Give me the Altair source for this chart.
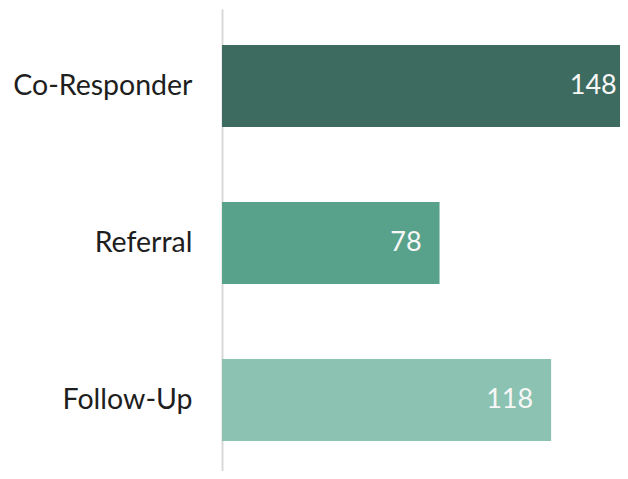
import altair as alt
import pandas as pd

categories = ["Co-Responder", "Referral", "Follow-Up"]
values = [148, 78, 118]
colors = ["#3e6b5f", "#58a18a", "#8cc2b1"]

df = pd.DataFrame({"cat": categories, "val": values, "col": colors})

y_enc = alt.Y("cat:N", sort=categories, title=None,
              scale=alt.Scale(paddingInner=0.478, paddingOuter=0.21, align=0.545),
              axis=alt.Axis(ticks=False, labelFontSize=28.5, labelFont="Lato",
                            labelColor="#1e1e1e", labelPadding=30,
                            domainColor="#d9d9d9", domainWidth=2))
x_enc = alt.X("val:Q", title=None, scale=alt.Scale(domain=[0, 142.7], nice=False, clamp=False),
              axis=None)

bars = alt.Chart(df).mark_bar(clip=True).encode(
    y=y_enc, x=x_enc, color=alt.Color("col:N", scale=None)
)
labels = alt.Chart(df).mark_text(align="right", dx=-18, fontSize=27, font="Lato",
                                 color="#f7f7f7").encode(
    y=alt.Y("cat:N", sort=categories), x=x_enc, text="val:Q"
)

chart = alt.layer(bars, labels).properties(
    width=398, height=462,
    autosize=alt.AutoSizeParams(type="none"),
    padding={"left": 214, "top": 1, "right": 0, "bottom": 0},
).configure_view(stroke=None)

chart.save("out.html", embed_options={"renderer": "svg", "actions": False})
